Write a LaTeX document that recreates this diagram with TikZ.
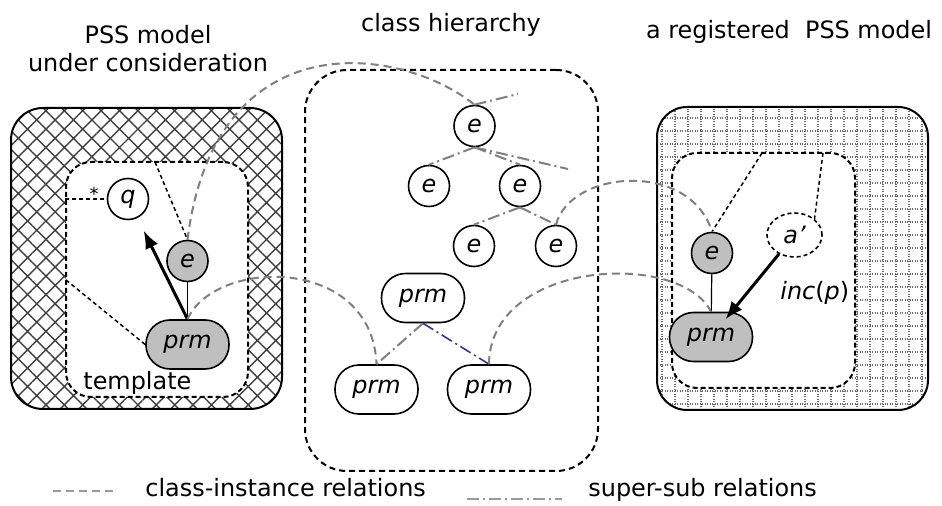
\documentclass[tikz,border=0pt]{standalone}
\usepackage{fontspec}
\setmainfont{DejaVu Sans}
\usetikzlibrary{arrows,arrows.meta}
\usetikzlibrary{shapes}
\usetikzlibrary{patterns.meta}

\begin{document}
\begin{tikzpicture}[>=latex',line join=bevel,
  font=\fontsize{12}{16.5}\selectfont,
  inst/.style={draw=instcol,line width=1bp,dash pattern=on 4bp off 2.5bp},
  supsub/.style={draw=instcol,line width=1bp,dash pattern=on 6bp off 2bp on 1bp off 2bp},
  link/.style={line width=0.75bp,dash pattern=on 2bp off 1.5bp},
  incl/.style={-{Latex[length=9bp,width=7bp]},line width=1.5bp},
  elem/.style={draw,circle,line width=0.8bp,minimum size=20.5bp,inner sep=0pt,font=\fontsize{12}{14}\selectfont\itshape},
  prmbox/.style={draw,rectangle,rounded corners=12bp,line width=0.8bp,minimum width=41.5bp,minimum height=24.5bp,inner sep=0pt,font=\fontsize{12}{14}\selectfont\itshape},
  modelbox/.style={draw,rectangle,rounded corners=16bp,line width=1bp,inner sep=0pt},
  partbox/.style={draw,fill=white,rectangle,rounded corners=12.5bp,line width=1bp,dash pattern=on 2.5bp off 1.5bp,inner sep=0pt},
  gridline/.style={draw=gridcol,line width=0.55bp,dash pattern=on 0.55bp off 0.7bp}]
%%
\useasboundingbox (0bp,0bp) rectangle (471bp,253bp);
  \definecolor{instcol}{rgb}{0.5,0.5,0.5};
  \definecolor{shadecol}{rgb}{0.75,0.75,0.75};
  \definecolor{hatchcol}{rgb}{0.25,0.25,0.25};
  \definecolor{gridcol}{rgb}{0.42,0.42,0.42};
  \definecolor{subcol}{rgb}{0.2,0.2,0.6};
%% titles
\begin{scope}
  \node (NodeTitleLeft) at (74.0bp,217.0bp) [anchor=base,align=center] {PSS model\\[-2bp]under consideration};
  \node (NodeTitleMid) at (225.5bp,237.0bp) [anchor=base] {class hierarchy};
  \node (NodeTitleRight) at (394.5bp,233.5bp) [anchor=base] {a registered\ \ PSS model};
\end{scope}
%% model boxes
  \node (NodeLeftModel) at (73.25bp,123.75bp) [modelbox,minimum width=135.5bp,minimum height=150.5bp,pattern={Hatch[angle=45,distance=6.5bp,line width=0.7bp]},pattern color=hatchcol] {};
\begin{scope}
  \clip [rounded corners=15bp] (328.5bp,48.0bp) rectangle (464.0bp,199.5bp);
  \foreach \gx in {331.0,337.5,...,464.0}
    \draw [gridline] (\gx bp,48.0bp) -- (\gx bp,199.5bp);
  \foreach \gy in {51.0,57.5,...,199.5}
    \draw [gridline] (328.5bp,\gy bp) -- (464.0bp,\gy bp);
\end{scope}
  \node (NodeRightModel) at (396.25bp,123.75bp) [modelbox,rounded corners=15bp,minimum width=135.5bp,minimum height=151.5bp] {};
  \node (NodeTemplate) at (78.5bp,113.25bp) [partbox,minimum width=91.0bp,minimum height=117.5bp] {};
  \node (NodeRightPart) at (381.75bp,117.75bp) [partbox,minimum width=91.5bp,minimum height=117.5bp] {};
  \node (NodeHierarchy) at (225.75bp,117.75bp) [partbox,rounded corners=21bp,dash pattern=on 3bp off 2bp,minimum width=146.5bp,minimum height=200.5bp] {};
  \node (NodeTemplateText) at (41.5bp,58.0bp) [anchor=base west,inner sep=0pt] {template};
%% PSS model under consideration
  \node (NodeQ) at (64.0bp,153.5bp) [elem,fill=white] {q};
  \node (NodeLE) at (93.75bp,122.5bp) [elem,fill=shadecol] {e};
  \node (NodeLPrm) at (93.75bp,80.75bp) [prmbox,fill=shadecol] {prm};
%% class hierarchy
  \node (NodeHE0) at (237.25bp,190.0bp) [elem] {e};
  \node (NodeHE1) at (214.5bp,160.0bp) [elem] {e};
  \node (NodeHE2) at (260.0bp,160.0bp) [elem] {e};
  \node (NodeHE3) at (237.0bp,130.0bp) [elem] {e};
  \node (NodeHE4) at (278.0bp,130.0bp) [elem] {e};
  \node (NodeHP0) at (211.5bp,104.0bp) [prmbox] {prm};
  \node (NodeHP1) at (188.25bp,58.25bp) [prmbox] {prm};
  \node (NodeHP2) at (244.5bp,58.25bp) [prmbox] {prm};
%% registered PSS model
  \node (NodeRE) at (356.0bp,126.5bp) [elem,fill=shadecol] {e};
  \node (NodeRPrm) at (355.5bp,84.5bp) [prmbox,fill=shadecol] {prm};
  \node (NodeAPr) at (397.25bp,135.5bp) [ellipse,draw,link,line width=0.8bp,minimum width=27.5bp,minimum height=22.0bp,inner sep=0pt,font=\fontsize{12}{14}\selectfont\itshape] {a’};
  \node (NodeInc) at (390.0bp,103.0bp) [anchor=base west,inner sep=0pt] {\textit{inc}(\textit{p})};
%% free ends
  \coordinate (TplTop) at (77.5bp,172.0bp);
  \coordinate (TplLeft) at (33.0bp,113.0bp);
  \coordinate (RegTopA) at (381.0bp,176.5bp);
  \coordinate (RegTopB) at (411.5bp,176.5bp);
  \coordinate (SupEndA) at (259.0bp,206.0bp);
  \coordinate (SupEndB) at (284.0bp,168.5bp);
%% part links
  \draw [link] (NodeTemplate.west |- NodeQ.west) -- node [pos=0.7,anchor=south,inner sep=0pt,yshift=-1bp,font=\fontsize{9}{9}\selectfont] {*} (NodeQ.west);
  \draw [link] (TplTop) -- (NodeLE.north);
  \draw [link] (TplLeft) -- (NodeLPrm.west);
  \draw [link] (RegTopA) -- (NodeRE.north);
  \draw [link] (RegTopB) -- (NodeAPr.north east);
  \draw [line width=0.6bp] (NodeLE) -- (NodeLPrm);
  \draw [line width=0.6bp] (NodeRE) -- (NodeRPrm);
  \draw [incl,shorten >=7bp] (NodeLPrm.north) -- (NodeQ);
  \draw [incl,shorten >=-5bp] (NodeAPr) -- (NodeRPrm);
%% super-sub relations
  \draw [supsub] (NodeHE0.north) -- (SupEndA);
  \draw [supsub] (NodeHE0.south) -- (SupEndB);
  \draw [supsub] (NodeHE0.south) -- (NodeHE1.north);
  \draw [supsub] (NodeHE0.south) -- (NodeHE2.north);
  \draw [supsub] (NodeHE2.south) -- (NodeHE3.north);
  \draw [supsub] (NodeHE2.south) -- (NodeHE4.north);
  \draw [supsub] (NodeHP0.south) -- (NodeHP1.north);
  \draw [supsub,draw=subcol,line width=0.8bp] (NodeHP0.south) -- (NodeHP2.north);
%% class-instance relations
  \draw [inst] (NodeLE.north) ..controls (107.5bp,243.0bp) and (200.0bp,230.5bp)  .. (NodeHE0.north);
  \draw [inst] (NodeLPrm.north) ..controls (107.5bp,124.0bp) and (186.0bp,125.5bp)  .. (NodeHP1.north);
  \draw [inst] (NodeHP2.north) ..controls (245.0bp,123.0bp) and (340.0bp,128.0bp)  .. (NodeRPrm.north);
  \draw [inst] (NodeHE4.north) ..controls (285.0bp,168.0bp) and (345.0bp,173.0bp)  .. (NodeRE.north);
%% legend
  \coordinate (LegInstA) at (26.5bp,7.5bp);
  \coordinate (LegInstB) at (57.5bp,7.5bp);
  \coordinate (LegSubA) at (233.5bp,3.5bp);
  \coordinate (LegSubB) at (281.0bp,3.5bp);
  \draw [inst,line width=0.8bp,draw=instcol!80] (LegInstA) -- (LegInstB);
  \draw [supsub,draw=instcol!80] (LegSubA) -- (LegSubB);
  \node (NodeLegInst) at (72.5bp,5.0bp) [anchor=base west,inner sep=0pt] {class-instance relations};
  \node (NodeLegSub) at (294.0bp,5.0bp) [anchor=base west,inner sep=0pt] {super-sub relations};
%
\end{tikzpicture}
\end{document}
